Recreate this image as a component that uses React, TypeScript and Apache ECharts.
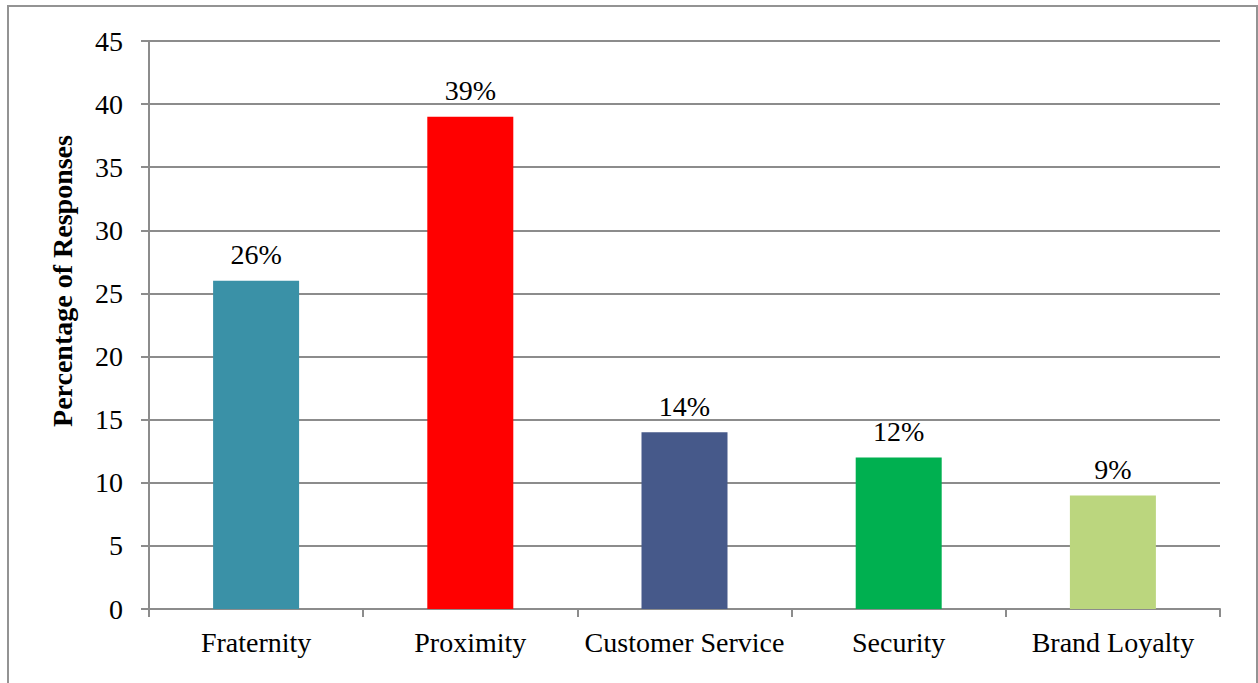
import React, { useEffect, useRef } from "react";
import * as echarts from "echarts";

const categories = ["Fraternity", "Proximity", "Customer Service", "Security", "Brand Loyalty"];
const values = [26, 39, 14, 12, 9];
const barColors = ["#3A91A7", "#FF0000", "#46598A", "#00B050", "#BBD67E"];
const yTicks = { min: 0, max: 45, interval: 5 };
const yTitle = "Percentage of Responses";

const FONT = "'Liberation Serif', 'Times New Roman', serif";
const GRAY = "#8c8c8c";

export default function App() {
  const ref = useRef<HTMLDivElement>(null);
  useEffect(() => {
    const chart = echarts.init(ref.current!, undefined, { renderer: "svg" });
    chart.setOption({
      animation: false,
      backgroundColor: "#ffffff",
      graphic: [
        {
          type: "rect",
          shape: { x: 8, y: 6, width: 1249, height: 720 },
          style: { fill: "none", stroke: "#939393", lineWidth: 2 },
          silent: true,
        },
        {
          type: "text",
          x: 62,
          y: 281,
          rotation: Math.PI / 2,
          style: {
            text: yTitle,
            fill: "#000",
            font: `bold 28px ${FONT}`,
            align: "center",
            verticalAlign: "middle",
          },
          silent: true,
        },
      ],
      grid: { left: 149, right: 38, top: 41, bottom: 74, containLabel: false },
      xAxis: {
        type: "category",
        data: categories,
        axisLine: { show: true, lineStyle: { color: GRAY, width: 2 } },
        axisTick: { show: true, length: 8, alignWithLabel: false, lineStyle: { color: GRAY, width: 2 } },
        axisLabel: { color: "#000", fontFamily: FONT, fontSize: 28, margin: 19, interval: 0 },
        splitLine: { show: false },
      },
      yAxis: {
        type: "value",
        min: yTicks.min,
        max: yTicks.max,
        interval: yTicks.interval,
        axisLine: { show: true, lineStyle: { color: GRAY, width: 2 } },
        axisTick: { show: true, length: 8, lineStyle: { color: GRAY, width: 2 } },
        axisLabel: { color: "#000", fontFamily: FONT, fontSize: 28, margin: 26 },
        splitLine: { show: true, lineStyle: { color: GRAY, width: 2 } },
      },
      series: [
        {
          type: "bar",
          barWidth: 86,
          data: values.map((v, i) => ({ value: v, itemStyle: { color: barColors[i] } })),
          label: {
            show: true,
            position: "top",
            distance: 12,
            formatter: "{c}%",
            color: "#000",
            fontFamily: FONT,
            fontSize: 28,
          },
        },
      ],
    });
    return () => chart.dispose();
  }, []);
  return (
    <div
      ref={ref}
      style={{ position: "fixed", left: 0, top: 0, width: 1258, height: 683 }}
    />
  );
}
